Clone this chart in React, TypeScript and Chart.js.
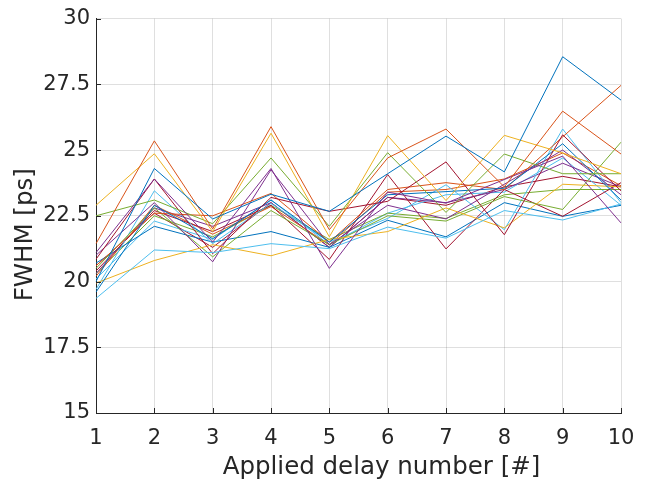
import React, { useEffect, useRef } from "react";
import { Chart, registerables } from "chart.js";

Chart.register(...registerables);

const delays = ["1", "2", "3", "4", "5", "6", "7", "8", "9", "10"];
const yTicks = [15, 17.5, 20, 22.5, 25, 27.5, 30];
const xTitle = "Applied delay number [#]";
const yTitle = "FWHM [ps]";

const C_BLUE = "#0072BD";
const C_ORANGE = "#D95319";
const C_YELLOW = "#EDB120";
const C_PURPLE = "#7E2F8E";
const C_GREEN = "#77AC30";
const C_LBLUE = "#4DBEEE";
const C_RED = "#A2142F";

const blue1 = [20.0, 24.3, 22.38, 23.32, 22.67, 24.1, 25.53, 24.17, 28.55, 26.9];
const orange1 = [21.44, 25.35, 22.0, 25.89, 21.97, 24.7, 25.8, 23.6, 26.48, 24.85];
const yellow1 = [22.9, 24.86, 21.9, 25.64, 21.7, 25.55, 23.08, 25.56, 24.89, 24.1];
const purple1 = [21.1, 23.9, 21.5, 24.3, 20.5, 23.4, 22.98, 23.88, 24.77, 22.23];
const green1 = [22.5, 23.1, 22.2, 24.7, 22.1, 24.9, 22.63, 24.85, 24.1, 24.1];
const lblue1 = [19.36, 21.2, 21.1, 21.44, 21.25, 22.07, 21.65, 22.7, 22.34, 22.95];
const red1 = [20.85, 23.9, 21.06, 23.2, 22.67, 23.05, 24.55, 21.78, 25.58, 23.45];
const blue2 = [19.6, 22.9, 21.63, 23.1, 21.5, 23.3, 23.42, 23.55, 25.24, 23.1];
const orange2 = [20.6, 22.6, 22.5, 23.35, 21.5, 23.5, 23.76, 23.5, 25.5, 27.46];
const yellow2 = [19.94, 20.8, 21.4, 20.98, 21.6, 21.9, 22.8, 22.04, 23.7, 23.6];
const purple2 = [21.0, 23.0, 20.75, 24.25, 21.4, 22.9, 22.38, 23.7, 25.0, 23.3];
const green2 = [20.5, 22.8, 20.94, 22.7, 21.4, 22.5, 22.3, 23.23, 22.74, 25.3];
const lblue2 = [19.7, 23.45, 21.44, 22.97, 21.5, 22.4, 23.68, 21.97, 25.8, 23.0];
const red2 = [20.4, 22.7, 21.9, 22.9, 20.84, 24.07, 21.24, 23.5, 22.48, 23.76];
const blue3 = [20.7, 22.1, 21.5, 21.9, 21.3, 22.33, 21.7, 23.0, 22.48, 22.9];
const orange3 = [20.2, 22.9, 21.8, 22.85, 21.4, 23.4, 23.5, 23.9, 24.89, 23.64];
const purple3 = [20.3, 22.8, 22.1, 23.0, 21.3, 23.2, 23.0, 23.5, 24.5, 23.6];
const green3 = [20.3, 22.5, 21.7, 22.9, 21.6, 22.6, 22.4, 23.3, 23.5, 23.5];
const lblue3 = [20.1, 22.3, 21.6, 23.1, 21.4, 22.6, 23.3, 23.4, 24.7, 22.9];
const red3 = [20.6, 22.6, 21.3, 23.0, 21.3, 23.2, 22.9, 23.6, 24.0, 23.6];

const seriesList: [number[], string][] = [
  [blue1, C_BLUE], [orange1, C_ORANGE], [yellow1, C_YELLOW], [purple1, C_PURPLE],
  [green1, C_GREEN], [lblue1, C_LBLUE], [red1, C_RED],
  [blue2, C_BLUE], [orange2, C_ORANGE], [yellow2, C_YELLOW], [purple2, C_PURPLE],
  [green2, C_GREEN], [lblue2, C_LBLUE], [red2, C_RED],
  [blue3, C_BLUE], [orange3, C_ORANGE], [purple3, C_PURPLE],
  [green3, C_GREEN], [lblue3, C_LBLUE], [red3, C_RED],
];

const FONT = "'DejaVu Sans', sans-serif";
const AX = "#262626";

const decorations = {
  id: "decorations",
  afterDraw(chart: any) {
    const { ctx, chartArea, scales } = chart;
    ctx.save();
    ctx.strokeStyle = AX;
    ctx.lineWidth = 1;
    ctx.beginPath();
    const xs = scales.x;
    for (let i = 0; i < delays.length; i++) {
      const px = Math.round(xs.getPixelForValue(i)) + 0.5;
      ctx.moveTo(px, chartArea.bottom);
      ctx.lineTo(px, chartArea.bottom - 5);
    }
    const ys = scales.y;
    for (const t of yTicks) {
      const py = Math.round(ys.getPixelForValue(t)) + 0.5;
      ctx.moveTo(chartArea.left, py);
      ctx.lineTo(chartArea.left + 5, py);
    }
    ctx.stroke();
    ctx.fillStyle = AX;
    ctx.font = "24.5px 'DejaVu Sans', sans-serif";
    ctx.textAlign = "center";
    ctx.textBaseline = "middle";
    const xc = (chartArea.left + chartArea.right) / 2 + 23;
    ctx.fillText(xTitle, xc, chartArea.bottom + 55);
    ctx.translate(26, (chartArea.top + chartArea.bottom) / 2 + 19);
    ctx.rotate(-Math.PI / 2);
    ctx.fillText(yTitle, 0, 0);
    ctx.restore();
  },
};

export default function App() {
  const ref = useRef<HTMLCanvasElement>(null);
  useEffect(() => {
    if (!ref.current) return;
    const chart = new Chart(ref.current, {
      type: "line",
      data: {
        labels: delays,
        datasets: seriesList.map(([d, c]) => ({
          data: d,
          borderColor: c,
          backgroundColor: c,
          borderWidth: 1,
          pointRadius: 0,
          tension: 0,
          fill: false,
        })),
      },
      options: {
        animation: false,
        responsive: false,
        maintainAspectRatio: false,
        layout: { padding: { top: 12, right: 41, left: 0, bottom: 0 } },
        plugins: { legend: { display: false }, tooltip: { enabled: false } },
        scales: {
          x: {
            type: "category",
            offset: false,
            grid: { color: "rgba(38,38,38,0.15)", drawTicks: false, tickLength: 0 },
            border: { color: AX, width: 1 },
            ticks: { color: AX, font: { family: FONT, size: 21 }, padding: 13, maxRotation: 0, autoSkip: false },
            title: { display: false },
            afterFit: (s: any) => { s.height = 72; },
          },
          y: {
            type: "linear",
            min: 15,
            max: 30,
            afterBuildTicks: (s: any) => { s.ticks = yTicks.map((v) => ({ value: v })); },
            grid: { color: "rgba(38,38,38,0.15)", drawTicks: false, tickLength: 0 },
            border: { color: AX, width: 1 },
            ticks: { color: AX, font: { family: FONT, size: 21 }, padding: 6 },
            title: { display: false },
            afterFit: (s: any) => { s.width = 96; },
          },
        },
      },
      plugins: [decorations],
    } as any);
    return () => chart.destroy();
  }, []);
  return (
    <div style={{ position: "fixed", left: 0, top: 0, width: 662, height: 485, background: "#fff" }}>
      <canvas ref={ref} width={662} height={485} style={{ display: "block", width: 662, height: 485 }} />
    </div>
  );
}
